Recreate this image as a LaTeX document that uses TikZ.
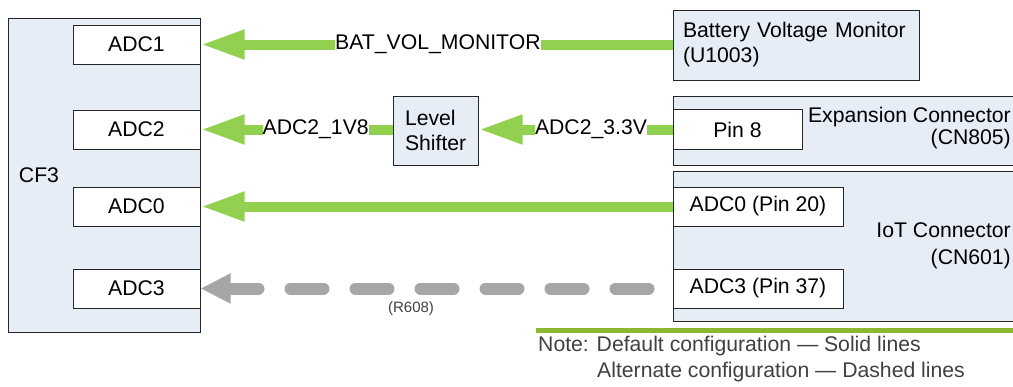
\documentclass[tikz,border=0pt]{standalone}
\usepackage{fontspec}
\setmainfont{Liberation Sans}
\usepackage{tikz}
\usetikzlibrary{arrows.meta}

\definecolor{boxblue}{RGB}{230,237,247}
\definecolor{sigGreen}{RGB}{146,208,80}
\definecolor{altGray}{RGB}{166,166,166}
\definecolor{ruleGreen}{RGB}{140,183,50}
\definecolor{noteGray}{RGB}{64,64,64}

\begin{document}
\begin{tikzpicture}[x=1pt, y=-1pt,
    every node/.style={font=\fontsize{21.2}{25}\selectfont, inner sep=0pt},
    blk/.style={draw=black!85, line width=1pt, fill=boxblue, rectangle},
    pinbox/.style={draw=black!85, line width=1pt, fill=white, rectangle, minimum width=127pt, minimum height=39pt},
    sigline/.style={draw=sigGreen, line width=10pt, -{Triangle[length=44pt, width=27pt]}},
    altline/.style={draw=altGray, line width=12pt, line cap=round, dash pattern=on 33pt off 32pt, dash phase=41pt, -{Triangle[length=30pt, width=28pt]}},
    siglabel/.style={fill=white, inner xsep=0pt, inner ysep=1pt}]
    \clip (0,0) rectangle (1013,386);

    % CF3 side
    \node[blk, minimum width=192pt, minimum height=314pt] (cf3) at (104,175) {};
    \node (cf3lbl) at (39,175) {CF3};
    \node[pinbox] (adc1) at (136.5,44.5) {ADC1};
    \node[pinbox] (adc2) at (136.5,129.5) {ADC2};
    \node[pinbox] (adc0) at (136.5,206.5) {ADC0};
    \node[pinbox] (adc3) at (136.5,288.5) {ADC3};

    % sources
    \node[blk, text width=226pt, align=left, inner xsep=10pt, minimum height=70pt] (bat) at (796,45) {Battery Voltage Monitor\\(U1003)};
    \node[blk, text width=61pt, align=left, inner xsep=12pt, minimum height=69pt] (ls) at (435.5,130.5) {Level\\Shifter};
    \node[blk, minimum width=357pt, minimum height=69pt] (exp) at (851.5,130.5) {};
    \node[pinbox, minimum width=129pt, minimum height=40pt] (pin8) at (737.5,129.5) {Pin 8};
    \node[anchor=east, align=right, font=\fontsize{21.2}{22}\selectfont] (explbl) at (1011,128.5) {Expansion Connector\\(CN805)};
    \node[blk, minimum width=357pt, minimum height=150pt] (iot) at (851.5,246) {};
    \node[pinbox, minimum width=170pt] (pin20) at (758,206.5) {ADC0 (Pin 20)};
    \node[pinbox, minimum width=170pt] (pin37) at (758,288.5) {ADC3 (Pin 37)};
    \node[anchor=east, align=right, font=\fontsize{21.2}{27}\selectfont] (iotlbl) at (1011,245.5) {IoT Connector\\(CN601)};

    % connections
    \draw[sigline] (bat.west |- adc1.east) -- node[siglabel, pos=0.497] (batsig) {BAT\_VOL\_MONITOR} (adc1.east);
    \draw[sigline] (ls.west |- adc2.east) -- node[siglabel, pos=0.40] (sig1v8) {ADC2\_1V8} (adc2.east);
    \draw[sigline] (pin8.west) -- node[siglabel, pos=0.42] (sig3v3) {ADC2\_3.3V} (ls.east |- pin8.west);
    \draw[sigline] (pin20.west) -- (adc0.east);
    \draw[altline] (pin37.west) -- node[pos=0.554, yshift=-20.5pt, text=noteGray, font=\fontsize{15}{18}\selectfont] (r608) {(R608)} (adc3.east);

    % note
    \coordinate (noteL) at (536,330);
    \coordinate (noteR) at (1020,330);
    \draw[ruleGreen, line width=5pt] (noteL) -- (noteR);
    \node[anchor=north west, align=left, text=noteGray, font=\fontsize{21.2}{26}\selectfont] (note) at (538,336) {Note: Default configuration — Solid lines\\\hspace{59pt}Alternate configuration — Dashed lines};
\end{tikzpicture}
\end{document}
